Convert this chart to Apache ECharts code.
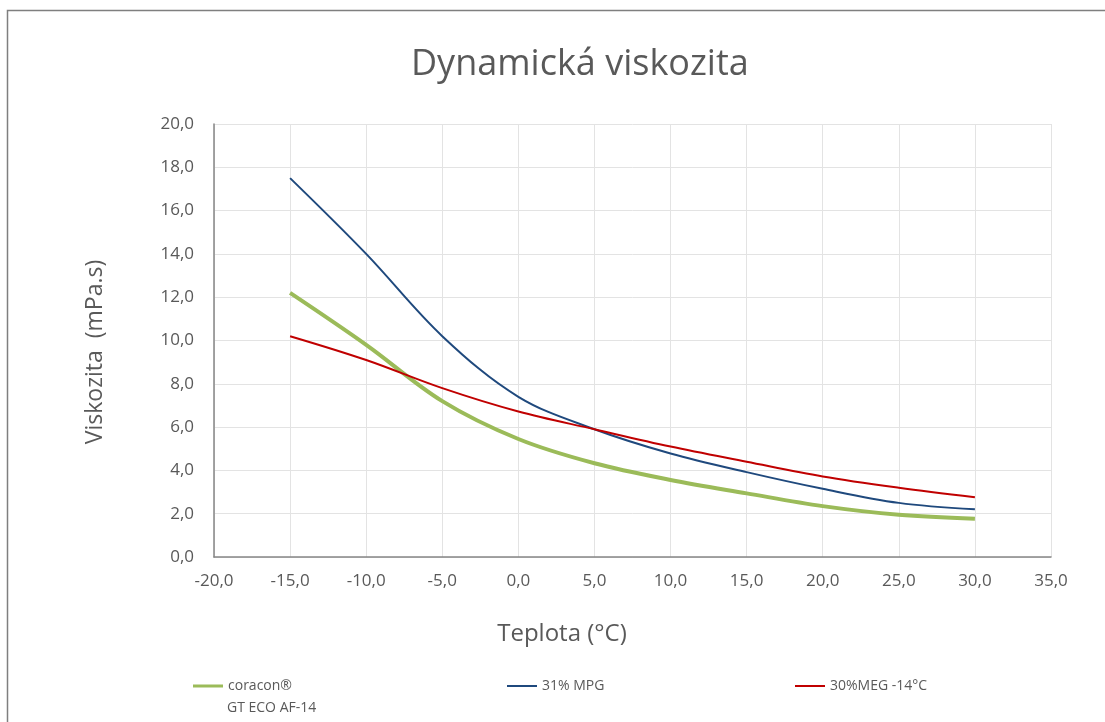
<!DOCTYPE html>
<html>
<head>
<meta charset="utf-8">
<script src="https://cdn.jsdelivr.net/npm/echarts@6/dist/echarts.min.js"></script>
<style>
  html, body { margin: 0; padding: 0; background: #fff; }
  #chart { width: 1105px; height: 722px; }
</style>
</head>
<body>
<div id="chart"></div>
<script>
// teploty (°C) a viskozita (mPa.s)
var temps = [-15, -10, -5, 0, 5, 10, 15, 20, 25, 30];
var coracon = [12.2, 9.8, 7.2, 5.45, 4.33, 3.56, 2.94, 2.35, 1.95, 1.77];
var mpg = [17.5, 14.0, 10.2, 7.4, 5.9, 4.78, 3.92, 3.15, 2.5, 2.2];
var meg = [10.2, 9.1, 7.8, 6.72, 5.9, 5.1, 4.4, 3.72, 3.2, 2.76];
var names = ['coracon®', '31% MPG', '30%MEG -14°C'];
var colors = ['#9bbb59', '#1f497d', '#c00000'];

function pairs(ys) {
  return temps.map(function (t, i) { return [t, ys[i]]; });
}
function fmt(v) { return v.toFixed(1).replace('.', ','); }

var font = 'Open Sans';
var txt = '#595959';

var chart = echarts.init(document.getElementById('chart'));
var option = {
  animation: false,
  title: {
    text: 'Dynamická viskozita',
    left: 406,
    top: 42,
    textStyle: { fontFamily: font, fontSize: 36, fontWeight: 'normal', color: txt }
  },
  grid: { left: 214, right: 54, top: 124, bottom: 165 },
  legend: [0, 1, 2].map(function (i) {
    return {
      data: [names[i]],
      left: [193, 507, 795][i],
      top: 679,
      padding: 0,
      icon: 'rect',
      itemWidth: 30,
      itemHeight: i == 0 ? 3 : 2,
      textStyle: { fontFamily: font, fontSize: 14, color: txt }
    };
  }),
  xAxis: {
    type: 'value',
    min: -20,
    max: 35,
    interval: 5,
    axisLine: { show: true, onZero: false, lineStyle: { color: '#868686', width: 1.5 } },
    axisTick: { show: false },
    splitLine: { show: true, lineStyle: { color: '#e3e3e3', width: 1 } },
    axisLabel: { fontFamily: font, fontSize: 17, color: txt, margin: 16, formatter: fmt }
  },
  yAxis: {
    type: 'value',
    min: 0,
    max: 20,
    interval: 2,
    axisLine: { show: true, onZero: false, lineStyle: { color: '#868686', width: 1.5 } },
    axisTick: { show: false },
    splitLine: { show: true, lineStyle: { color: '#e3e3e3', width: 1 } },
    axisLabel: { fontFamily: font, fontSize: 17, color: txt, margin: 20, formatter: fmt }
  },
  series: [
    { name: names[0], type: 'line', data: pairs(coracon), smooth: 0.35, showSymbol: false, lineStyle: { color: colors[0], width: 4 }, itemStyle: { color: colors[0] } },
    { name: names[1], type: 'line', data: pairs(mpg), smooth: 0.35, showSymbol: false, lineStyle: { color: colors[1], width: 2 }, itemStyle: { color: colors[1] } },
    { name: names[2], type: 'line', data: pairs(meg), smooth: 0.35, showSymbol: false, lineStyle: { color: colors[2], width: 2 }, itemStyle: { color: colors[2] } }
  ],
  graphic: [
    {
      type: 'rect',
      shape: { x: 7.5, y: 10.5, width: 1200, height: 800 },
      style: { fill: null, stroke: '#7f7f7f', lineWidth: 1.5 },
      silent: true
    },
    {
      type: 'text', x: 562, y: 634,
      style: { text: 'Teplota (°C)', fontFamily: font, fontSize: 24, fill: txt, align: 'center', verticalAlign: 'middle' }
    },
    {
      type: 'text', x: 95, y: 352, rotation: Math.PI / 2,
      style: { text: 'Viskozita  (mPa.s)', fontFamily: font, fontSize: 23, fill: txt, align: 'center', verticalAlign: 'middle' }
    },
    {
      type: 'text', x: 227, y: 701,
      style: { text: 'GT ECO AF-14', fontFamily: font, fontSize: 14, fill: txt }
    }
  ]
};
chart.setOption(option);
</script>
</body>
</html>
